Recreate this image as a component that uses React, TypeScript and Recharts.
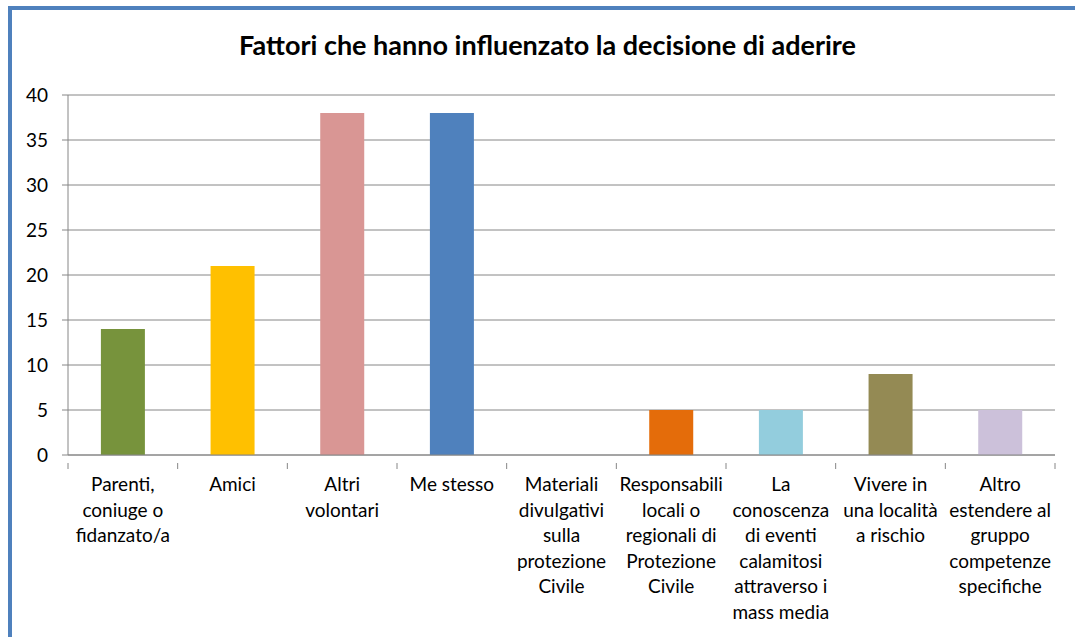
import React from "react"
import { BarChart, Bar, XAxis, YAxis, CartesianGrid, Cell } from "recharts"

const categorie = [
  "Parenti,\nconiuge o\nfidanzato/a",
  "Amici",
  "Altri\nvolontari",
  "Me stesso",
  "Materiali\ndivulgativi\nsulla\nprotezione\nCivile",
  "Responsabili\nlocali o\nregionali di\nProtezione\nCivile",
  "La\nconoscenza\ndi eventi\ncalamitosi\nattraverso i\nmass media",
  "Vivere in\nuna località\na rischio",
  "Altro\nestendere al\ngruppo\ncompetenze\nspecifiche",
]
const valori = [14, 21, 38, 38, 0, 5, 5, 9, 5]
const colori = [
  "#77933C",
  "#FFC000",
  "#D99694",
  "#4F81BD",
  "#4F81BD",
  "#E46C0A",
  "#93CDDD",
  "#948A54",
  "#CCC1DA",
]
const tickY = [0, 5, 10, 15, 20, 25, 30, 35, 40]

const data = categorie.map((c, i) => ({ nome: c, valore: valori[i] }))

const W = 1075
const H = 637
const PLOT_LEFT = 68
const PLOT_RIGHT = 20
const FONT = "Lato, 'Open Sans', sans-serif"
const GRIGIO = "#868686"
const step = (W - PLOT_LEFT - PLOT_RIGHT) / categorie.length

function TickCategoria(props: any) {
  const { x, y, payload, index } = props
  const righe = String(payload.value).split("\n")
  return (
    <g>
      <line x1={x - step / 2} x2={x - step / 2} y1={y} y2={y + 6} stroke={GRIGIO} />
      {index === categorie.length - 1 && (
        <line x1={x + step / 2} x2={x + step / 2} y1={y} y2={y + 6} stroke={GRIGIO} />
      )}
      <text x={x} y={y} textAnchor="middle" fontSize={19} fill="#000" fontFamily={FONT}>
        {righe.map((r, i) => (
          <tspan key={i} x={x} dy={i === 0 ? 28 : 25.6}>
            {r}
          </tspan>
        ))}
      </text>
    </g>
  )
}

export default function App() {
  return (
    <div style={{ position: "absolute", left: 0, top: 0, width: W, height: H, background: "#fff" }}>
      <div
        style={{
          position: "absolute",
          left: 8,
          top: 6,
          right: -10,
          bottom: -10,
          borderLeft: "4px solid #4F81BD",
          borderTop: "4px solid #4F81BD",
        }}
      />
      <div
        style={{
          position: "absolute",
          top: 28,
          left: 0,
          width: 1095,
          textAlign: "center",
          fontFamily: FONT,
          fontWeight: 700,
          fontSize: 27,
          color: "#000",
        }}
      >
        Fattori che hanno influenzato la decisione di aderire
      </div>
      <div style={{ position: "absolute", left: 0, top: 0 }}>
        <BarChart
          width={W}
          height={H}
          data={data}
          margin={{ top: 95, right: PLOT_RIGHT, left: 8, bottom: 0 }}
          barCategoryGap="30%"
        >
          <CartesianGrid vertical={false} stroke={GRIGIO} />
          <XAxis
            dataKey="nome"
            interval={0}
            height={182}
            axisLine={{ stroke: GRIGIO }}
            tickLine={false}
            tick={<TickCategoria />}
          />
          <YAxis
            width={60}
            domain={[0, 40]}
            ticks={tickY}
            interval={0}
            axisLine={{ stroke: GRIGIO }}
            tickLine={{ stroke: GRIGIO }}
            tickSize={6}
            tickMargin={14}
            tick={{ fontSize: 19, fill: "#000", fontFamily: FONT }}
          />
          <Bar dataKey="valore" isAnimationActive={false}>
            {data.map((_, i) => (
              <Cell key={i} fill={colori[i]} />
            ))}
          </Bar>
        </BarChart>
      </div>
    </div>
  )
}
